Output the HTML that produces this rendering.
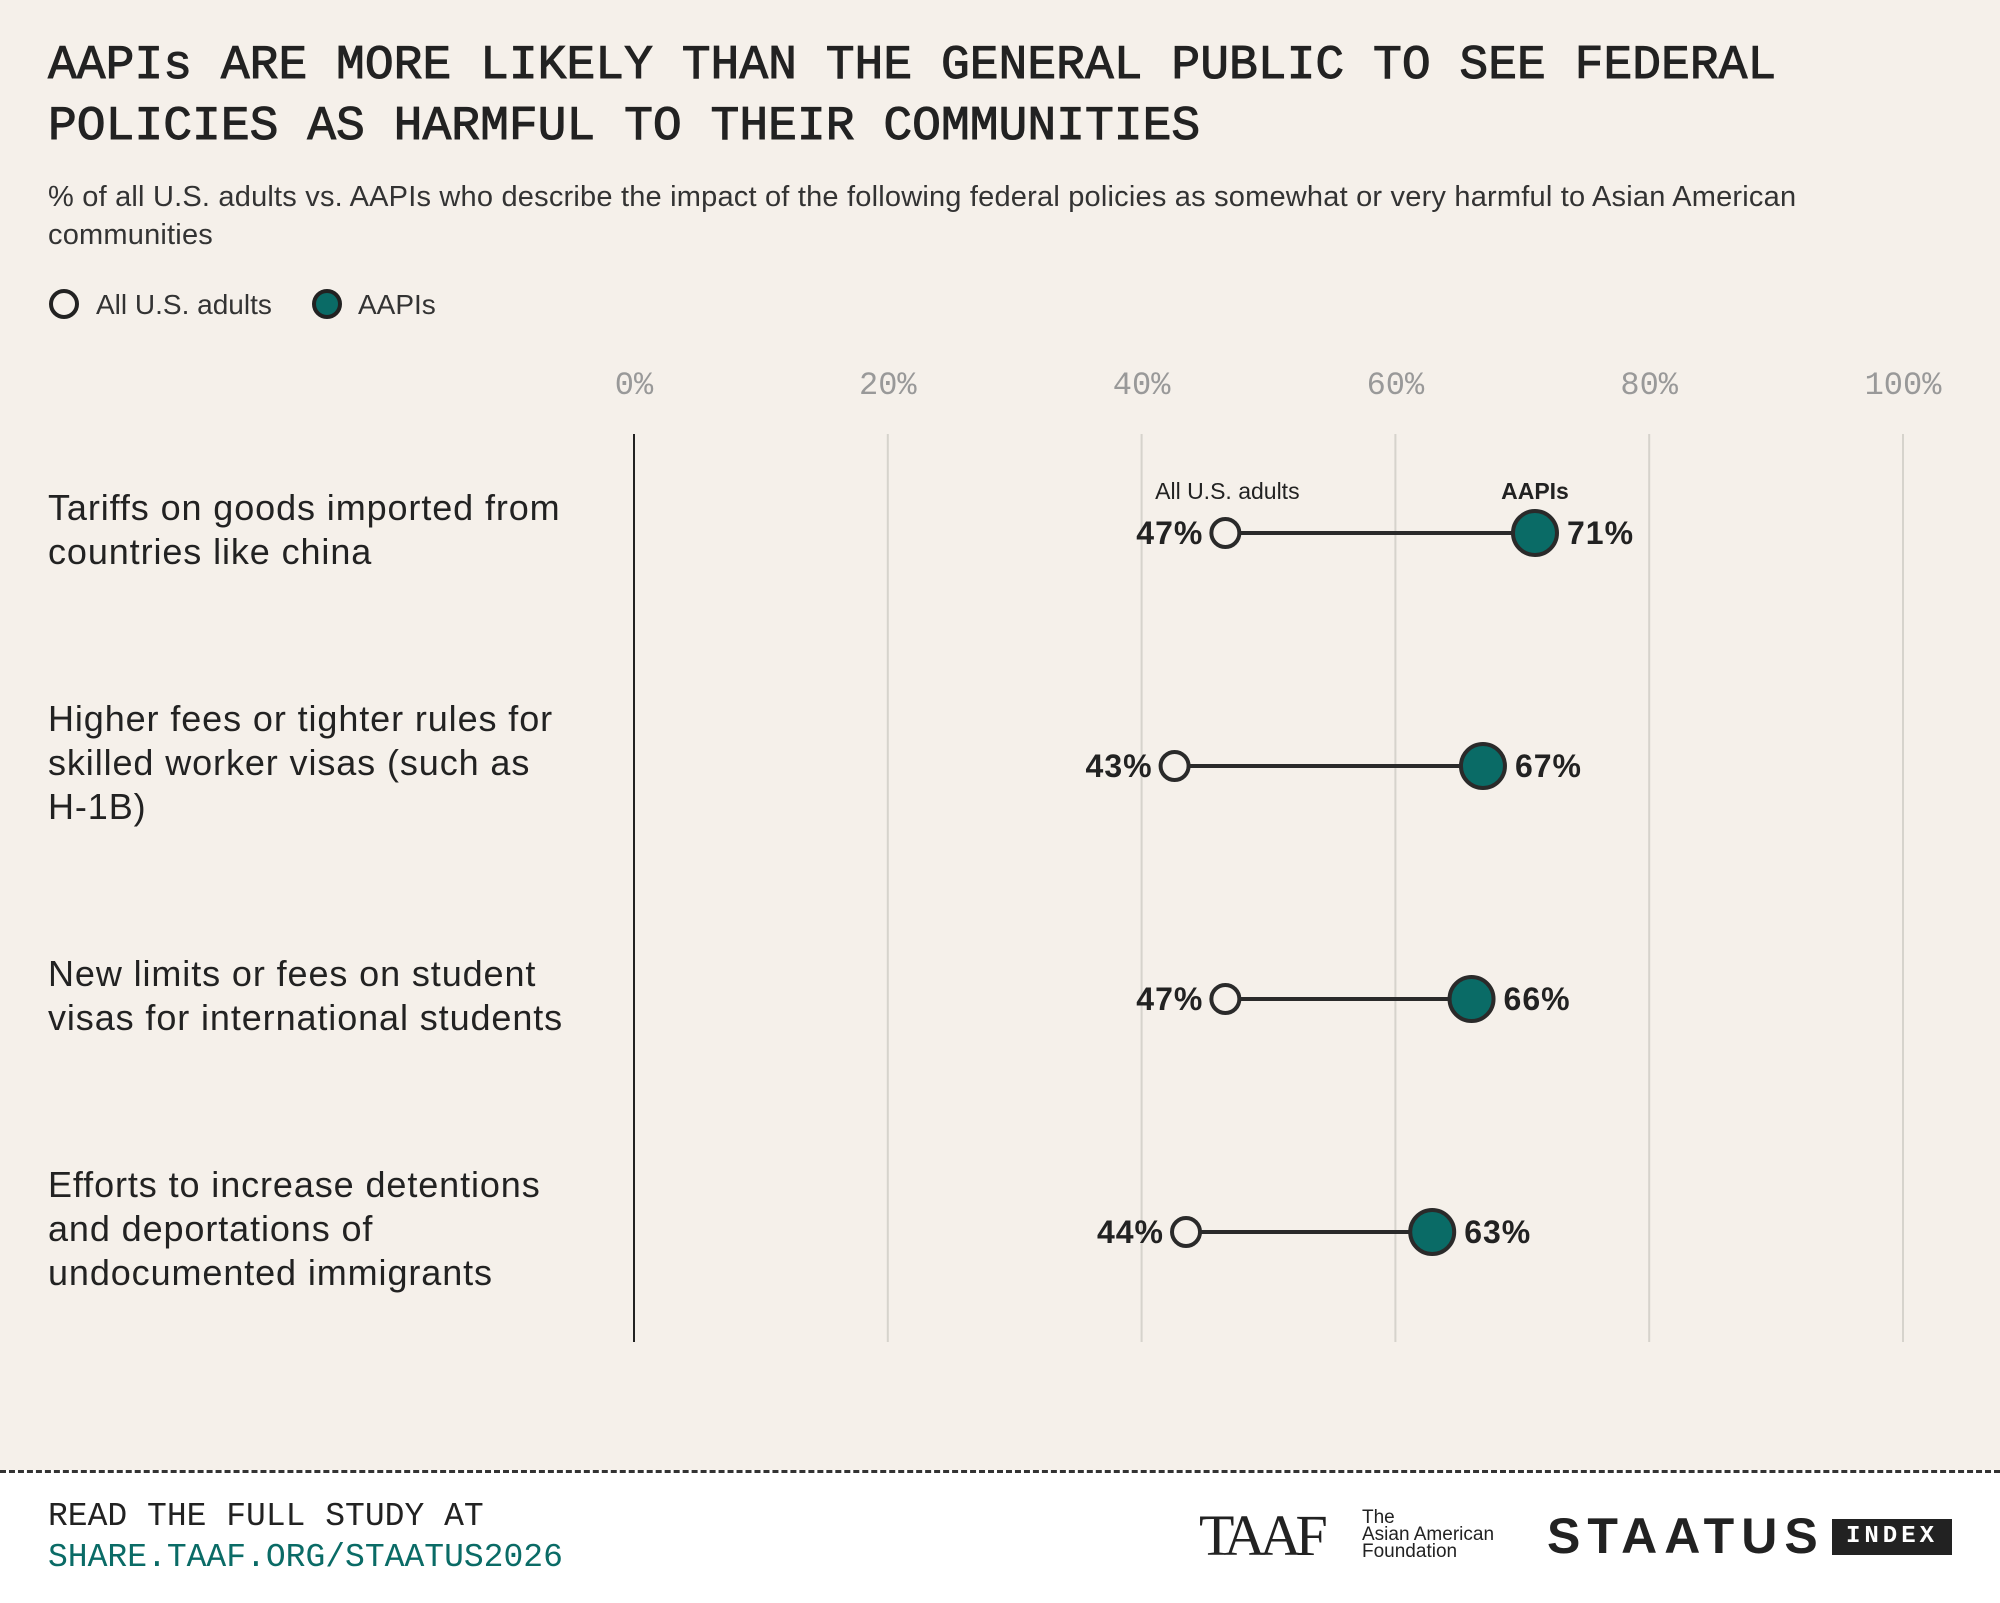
<!DOCTYPE html>
<html><head><meta charset="utf-8"><style>
body{margin:0;width:2000px;height:1600px;background:#f5f0ea;font-family:"Liberation Sans",sans-serif;color:#222;position:relative;overflow:hidden}
.abs{position:absolute}
h1{position:absolute;left:48px;top:36px;margin:0;font-family:"Liberation Mono",monospace;font-weight:normal;font-size:48px;line-height:61px;color:#222;-webkit-text-stroke:1px #222}
.sub{left:48px;top:178px;width:1830px;font-size:29px;line-height:38px;color:#333;letter-spacing:0.2px}
.footer{left:0;top:1470px;width:2000px;height:130px;background:#fff;border-top:3px dashed #333}
</style></head><body>
<h1>AAPIs ARE MORE LIKELY THAN THE GENERAL PUBLIC TO SEE FEDERAL<br>POLICIES AS HARMFUL TO THEIR COMMUNITIES</h1>
<div class="abs sub">% of all U.S. adults vs. AAPIs who describe the impact of the following federal policies as somewhat or very harmful to Asian American communities</div>
<svg class="abs" style="left:0;top:0" width="2000" height="1470">
<g>
<circle cx="64" cy="304" r="13" fill="#f5f0ea" stroke="#222" stroke-width="4"/>
<text x="96" y="314" font-size="28" fill="#333">All U.S. adults</text>
<circle cx="327" cy="304" r="13" fill="#0a6b66" stroke="#222" stroke-width="4"/>
<text x="358" y="314" font-size="28" fill="#333">AAPIs</text>
</g>
<g id="plot"></g>
</svg>
<div class="abs footer">
<div class="abs" style="left:48px;top:25px;font-family:'Liberation Mono',monospace;font-size:33px;color:#222">READ THE FULL STUDY AT</div>
<div class="abs" style="left:48px;top:66px;font-family:'Liberation Mono',monospace;font-size:33px;color:#0a6b66">SHARE.TAAF.ORG/STAATUS2026</div>
<div class="abs" style="left:1199px;top:38px;font-family:'Liberation Serif',serif;font-size:58px;line-height:50px;letter-spacing:-6px;color:#222">TAAF</div>
<div class="abs" style="left:1362px;top:36px;font-size:19px;line-height:17px;color:#222">The<br>Asian American<br>Foundation</div>
<div class="abs" style="left:1547px;top:38px;font-size:50px;line-height:50px;letter-spacing:7px;color:#222;font-weight:bold">STAATUS</div>
<div class="abs" style="left:1832px;top:46px;width:120px;height:36px;background:#222;color:#fff;font-family:'Liberation Mono',monospace;font-size:24px;line-height:36px;text-align:center;letter-spacing:4px;font-weight:bold">INDEX</div>
</div>
<script>
const categories=[["Tariffs on goods imported from","countries like china"],["Higher fees or tighter rules for","skilled worker visas (such as","H-1B)"],["New limits or fees on student","visas for international students"],["Efforts to increase detentions","and deportations of","undocumented immigrants"]];
const allAdults=[46.6,42.6,46.6,43.5];
const aapis=[71,66.9,66,62.9];
const ticks=[0,20,40,60,80,100];
const NS="http://www.w3.org/2000/svg";
const g=document.getElementById('plot');
const x=v=>634+v*12.69;
const rowY=i=>533+i*233;
function mk(t,a){const e=document.createElementNS(NS,t);for(const k in a)e.setAttribute(k,a[k]);g.appendChild(e);return e;}
ticks.forEach(t=>{
 const l=mk('line',{x1:x(t),x2:x(t),y1:434,y2:1342,stroke:t===0?'#222':'#d6d3cc','stroke-width':2});
 
 
 const tx=mk('text',{x:x(t),y:394,'text-anchor':'middle','font-family':'Liberation Mono, monospace','font-size':32,fill:'#999'});
 tx.textContent=t+'%';
 
 
});
categories.forEach((c,i)=>{
 const y=rowY(i);
 const n=c.length;
 c.forEach((ln,j)=>{
  const t=mk('text',{x:48,y:y-(n===2?24:46)+j*44+11,'font-size':36,'letter-spacing':0.9,fill:'#222'});
  t.textContent=ln;
  
  
 });
 const a=x(allAdults[i]),b=x(aapis[i]);
 const l=mk('line',{x1:a,x2:b,y1:y,y2:y,stroke:'#2a2a2a','stroke-width':4});
 
 
 const c1=mk('circle',{cx:a,cy:y,r:14,fill:'#f5f0ea',stroke:'#2a2a2a','stroke-width':4});
 
 
 const c2=mk('circle',{cx:b,cy:y,r:22,fill:'#0a6b66',stroke:'#2a2a2a','stroke-width':4});
 
 
 const t1=mk('text',{x:a-22,y:y+11,'text-anchor':'end','font-size':32,'font-weight':'bold','letter-spacing':1,fill:'#222'});
 t1.textContent=Math.round(allAdults[i])+'%';
 
 
 const t2=mk('text',{x:b+32,y:y+11,'font-size':32,'font-weight':'bold','letter-spacing':1,fill:'#222'});
 t2.textContent=Math.round(aapis[i])+'%';
 
 
 if(i===0){
  const s1=mk('text',{x:a+2,y:499,'text-anchor':'middle','font-size':23,fill:'#222'});
  s1.textContent='All U.S. adults';
  
  
  const s2=mk('text',{x:b,y:499,'text-anchor':'middle','font-size':23,'font-weight':'bold',fill:'#222'});
  s2.textContent='AAPIs';
  
  
 }
});
</script>
</body></html>
